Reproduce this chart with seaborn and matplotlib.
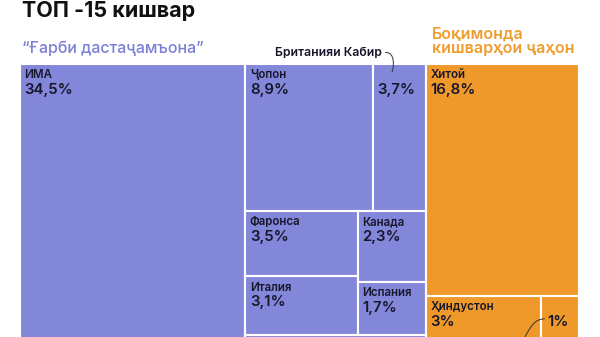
import matplotlib
matplotlib.use("Agg")
import matplotlib.pyplot as plt
import seaborn as sns
from matplotlib.patches import Rectangle, PathPatch
from matplotlib.path import Path

# ---------------- data ----------------
west_names = ["ИМА", "Ҷопон", "", "Фаронса", "Италия", "Канада", "Испания", ""]
west_values = [34.5, 8.9, 3.7, 3.5, 3.1, 2.3, 1.7, 4.5]   # last = cells cut off below
west_labels = ["34,5%", "8,9%", "3,7%", "3,5%", "3,1%", "2,3%", "1,7%", ""]
rest_names = ["Хитой", "Ҳиндустон", "", ""]
rest_values = [16.8, 3.0, 1.0, 2.6]                       # last = cells cut off below
rest_labels = ["16,8%", "3%", "1%", ""]
title = "ТОП -15 кишвар"
west_title = "“Ғарби дастаҷамъона”"
rest_title = ["Боқимонда", "кишварҳои ҷаҳон"]
uk_callout = "Британияи Кабир"

# ---------------- style ----------------
sns.set_theme(style="white")
FONT = ["Inter", "Noto Sans", "DejaVu Sans"]
plt.rcParams["font.family"] = FONT
purple, orange = sns.color_palette(["#8387DA", "#F0992B"])
txt_dark = "#17172b"

W, H = 559, 323   # treemap frame (pixel-like units)


def split(rect, weights, horizontal):
    x, y, w, h = rect
    tot = sum(weights)
    out, pos = [], 0.0
    for wt in weights:
        f = wt / tot
        if horizontal:
            out.append((x + pos * w, y, f * w, h))
        else:
            out.append((x, y + pos * h, w, f * h))
        pos += f
    return out


wv, rv = west_values, rest_values
west_rect, rest_rect = split((0, 0, W, H), [sum(wv), sum(rv)], True)
usa, wr = split(west_rect, [wv[0], sum(wv[1:])], True)
row1, row2, row3 = split(wr, [wv[1] + wv[2], sum(wv[3:7]), wv[7]], False)
jp, uk = split(row1, [wv[1], wv[2]], True)
c1, c2 = split(row2, [wv[3] + wv[4], wv[5] + wv[6]], True)
fr, it = split(c1, [wv[3], wv[4]], False)
ca, es = split(c2, [wv[5], wv[6]], False)
west_cells = [usa, jp, uk, fr, it, ca, es, row3]

china, rowb, rhid = split(rest_rect, [rv[0], rv[1] + rv[2], rv[3]], False)
india, one = split(rowb, [rv[1], rv[2]], True)
rest_cells = [china, india, one, rhid]

fig = plt.figure(figsize=(6, 3.37), dpi=100)
top_px, left_px = 64, 20
ax = fig.add_axes([left_px / 600, (337 - top_px - H) / 337, W / 600, H / 337])
ax.set_xlim(0, W)
ax.set_ylim(H, 0)
ax.axis("off")


def draw(cells, names, labels, color):
    for i, ((x, y, w, h), n, lab) in enumerate(zip(cells, names, labels)):
        ax.add_patch(Rectangle((x, y), w, h, facecolor=color, edgecolor="white",
                               linewidth=1.5, clip_on=False))
        if n:
            ax.text(x + 4.5, y + 14.5, n, fontsize=8.3, fontweight="semibold",
                    color=txt_dark, va="baseline", ha="left")
        if lab:
            dx = 7 if (cells is rest_cells and i == 2) else 4.5
            ax.text(x + dx, y + 30, lab, fontsize=10.8, fontweight="semibold",
                    color=txt_dark, va="baseline", ha="left")


draw(west_cells, west_names, west_labels, purple)
draw(rest_cells, rest_names, rest_labels, orange)

# callout for UK
ux, uy = uk[0], uk[1]
ax.text(ux + 9, uy - 8, uk_callout, fontsize=8.8, fontweight="semibold",
        color=txt_dark, ha="right", va="baseline", clip_on=False)
p = Path([(ux + 12, uy - 11.5), (ux + 22, uy - 12.5), (ux + 21, uy + 2), (ux + 19, uy + 8)],
         [Path.MOVETO, Path.CURVE4, Path.CURVE4, Path.CURVE4])
ax.add_patch(PathPatch(p, facecolor="none", edgecolor="#333333", linewidth=0.7, clip_on=False))

# callout for the 1% cell
ox, oy = one[0], one[1]
p2 = Path([(ox - 18, oy + 45), (ox - 10, oy + 30), (ox - 6, oy + 23), (ox + 4, oy + 23)],
          [Path.MOVETO, Path.CURVE4, Path.CURVE4, Path.CURVE4])
ax.add_patch(PathPatch(p2, facecolor="none", edgecolor="#333333", linewidth=0.7, clip_on=False))

# headings
fig.text(22 / 600, 1 - 17 / 337, title, fontsize=15.5, fontweight="bold",
         color="#111111", va="baseline", ha="left")
fig.text(22 / 600, 1 - 53.3 / 337, west_title, fontsize=11.5, fontweight="medium",
         color="#7B7FD6", va="baseline", ha="left")
fig.text(432 / 600, 1 - 39 / 337, rest_title[0], fontsize=11.5, fontweight="semibold",
         color="#EE9E2E", va="baseline", ha="left")
fig.text(432 / 600, 1 - 53.5 / 337, rest_title[1], fontsize=11.5, fontweight="semibold",
         color="#EE9E2E", va="baseline", ha="left")

fig.savefig("out.png", dpi=100)
